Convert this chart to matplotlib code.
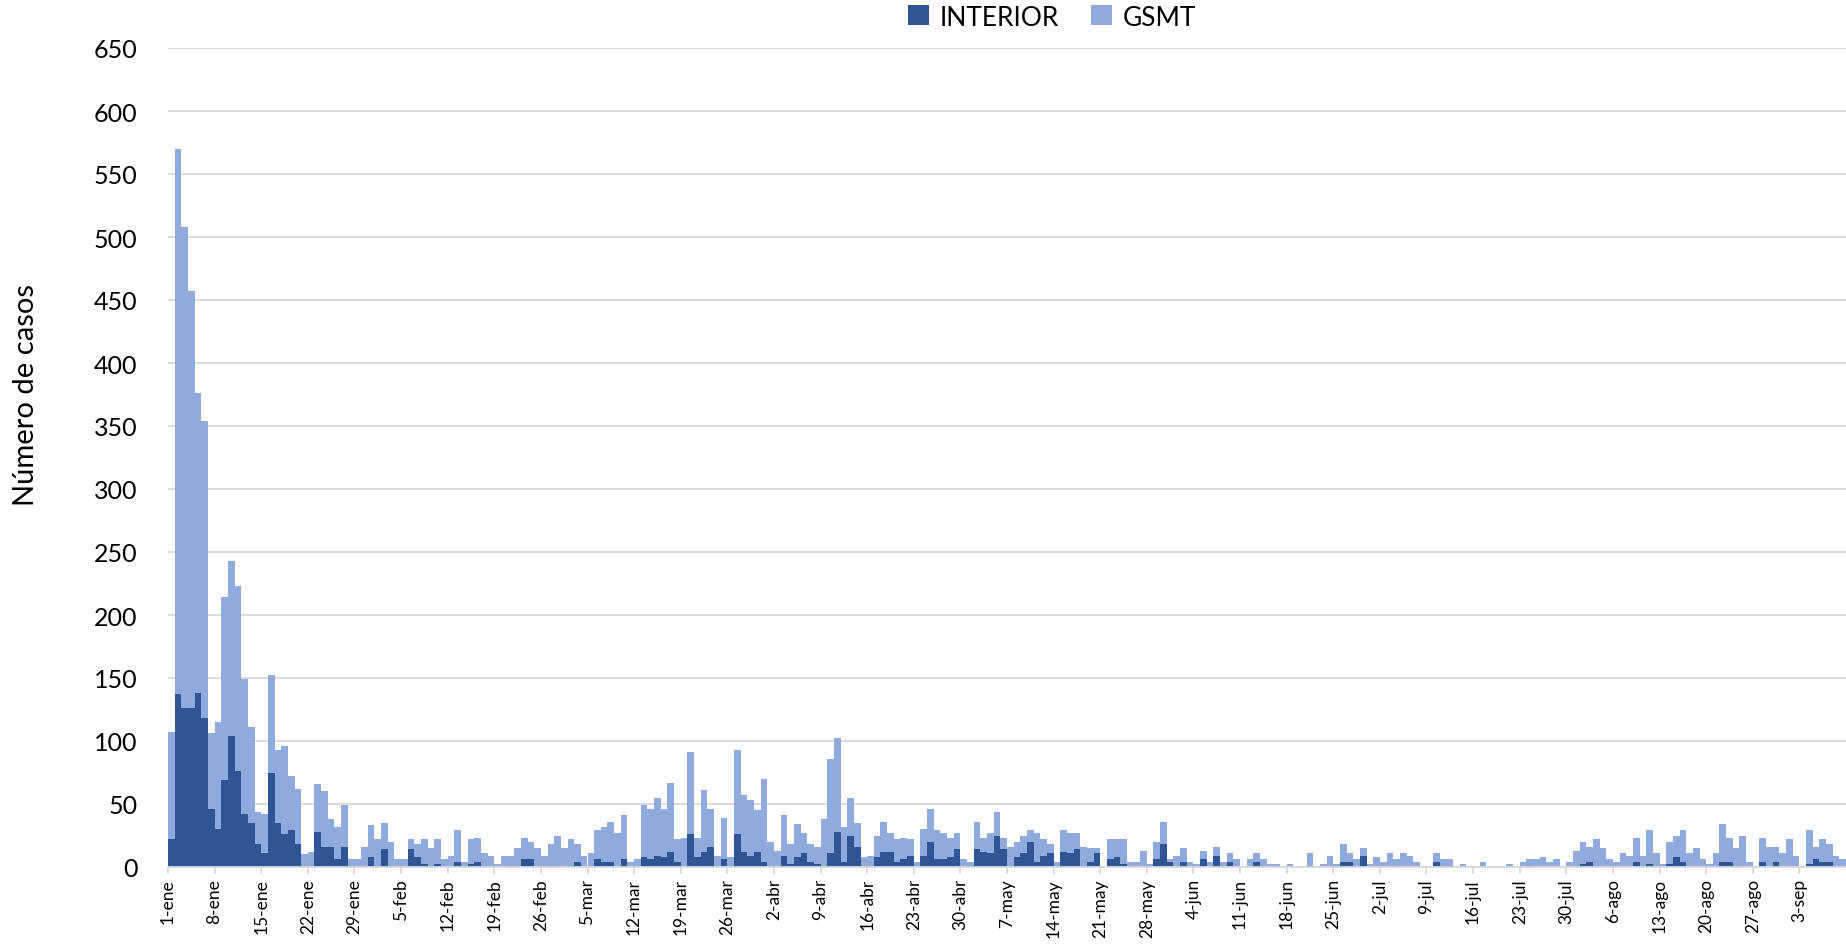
import matplotlib
matplotlib.use('Agg')
import matplotlib.pyplot as plt
import numpy as np

plt.rcParams['font.family'] = ['Lato', 'DejaVu Sans']

# daily cases, 1-ene .. 9-sep (14 days per row)
interior = [
    22, 137, 126, 126, 138, 118, 46, 30, 69, 104, 76, 42, 35, 18,
    11, 75, 35, 26, 29, 18, 1, 0, 28, 16, 16, 6, 16, 0,
    0, 1, 8, 1, 14, 0, 0, 0, 14, 8, 2, 1, 2, 0,
    0, 4, 1, 2, 4, 1, 0, 0, 0, 1, 0, 6, 6, 0,
    0, 1, 0, 0, 1, 4, 0, 0, 6, 4, 4, 0, 6, 0,
    0, 8, 6, 9, 8, 12, 4, 1, 26, 8, 12, 16, 0, 6,
    0, 26, 12, 9, 12, 4, 0, 0, 9, 2, 8, 11, 4, 2,
    1, 11, 28, 4, 25, 16, 0, 0, 8, 12, 12, 4, 6, 9,
    0, 9, 20, 6, 6, 8, 14, 0, 1, 14, 12, 11, 25, 14,
    0, 8, 11, 20, 4, 9, 11, 0, 12, 11, 14, 1, 4, 11,
    0, 6, 8, 2, 1, 0, 0, 0, 6, 18, 4, 0, 4, 0,
    0, 6, 0, 9, 0, 4, 0, 0, 0, 4, 0, 0, 1, 0,
    0, 0, 0, 1, 0, 0, 1, 0, 4, 4, 0, 9, 0, 0,
    0, 0, 1, 0, 0, 0, 0, 0, 4, 0, 1, 0, 0, 0,
    0, 0, 0, 0, 0, 0, 0, 0, 1, 0, 0, 0, 0, 0,
    0, 0, 2, 4, 1, 0, 0, 0, 0, 0, 4, 0, 2, 1,
    0, 2, 8, 4, 0, 0, 0, 0, 0, 4, 4, 1, 0, 0,
    0, 4, 0, 4, 0, 0, 0, 0, 2, 6, 4, 4, 0, 0,
]

gsmt = [
    85, 433, 382, 331, 238, 236, 60, 85, 145, 139, 147, 107, 76, 26,
    31, 77, 58, 70, 43, 44, 9, 12, 38, 44, 22, 26, 33, 6,
    6, 15, 25, 21, 21, 20, 6, 6, 8, 10, 20, 14, 20, 6,
    9, 25, 3, 20, 19, 10, 9, 2, 9, 8, 15, 17, 14, 15,
    9, 17, 25, 15, 21, 14, 9, 11, 23, 28, 32, 27, 35, 4,
    6, 41, 40, 46, 38, 55, 18, 22, 65, 15, 49, 30, 9, 33,
    8, 67, 45, 44, 33, 66, 20, 13, 32, 16, 26, 16, 14, 14,
    37, 75, 74, 28, 30, 19, 8, 9, 17, 24, 15, 18, 17, 13,
    4, 21, 26, 23, 21, 15, 13, 6, 3, 22, 11, 16, 19, 9,
    16, 12, 14, 9, 23, 13, 7, 4, 17, 16, 13, 15, 11, 4,
    0, 16, 14, 20, 3, 4, 13, 2, 14, 18, 2, 9, 11, 4,
    2, 7, 4, 7, 4, 7, 6, 0, 6, 7, 6, 2, 1, 1,
    2, 1, 1, 10, 1, 2, 8, 2, 14, 7, 6, 6, 2, 8,
    4, 11, 5, 11, 9, 4, 1, 1, 7, 6, 5, 1, 2, 1,
    1, 4, 1, 1, 1, 2, 0, 4, 5, 6, 8, 4, 6, 0,
    4, 13, 18, 12, 21, 15, 6, 4, 11, 9, 19, 9, 27, 10,
    2, 18, 17, 25, 11, 15, 6, 2, 11, 30, 19, 14, 25, 4,
    1, 19, 16, 12, 11, 22, 9, 1, 27, 10, 18, 14, 9, 6,
]

week_labels = ['1-ene', '8-ene', '15-ene', '22-ene', '29-ene', '5-feb', '12-feb',
               '19-feb', '26-feb', '5-mar', '12-mar', '19-mar', '26-mar', '2-abr',
               '9-abr', '16-abr', '23-abr', '30-abr', '7-may', '14-may', '21-may',
               '28-may', '4-jun', '11-jun', '18-jun', '25-jun', '2-jul', '9-jul',
               '16-jul', '23-jul', '30-jul', '6-ago', '13-ago', '20-ago', '27-ago',
               '3-sep']

dark = '#2F5597'
light = '#8FAADC'
grid_c = '#D9D9D9'

x = np.arange(len(interior))
interior = np.array(interior)
gsmt = np.array(gsmt)

fig = plt.figure(figsize=(18.46, 9.45), dpi=100)
ax = fig.add_axes([168 / 1846, 1 - 868 / 945, (1846 - 168) / 1846, (868 - 49) / 945])

ax.bar(x, interior, width=1.0, color=dark, label='INTERIOR', zorder=3)
ax.bar(x, gsmt, width=1.0, bottom=interior, color=light, label='GSMT', zorder=3)

ax.set_xlim(-0.5, len(x) - 0.5)
ax.set_ylim(0, 650)
ax.set_yticks(np.arange(0, 651, 50))
ax.yaxis.grid(True, color=grid_c, linewidth=1.3, zorder=0)
ax.tick_params(axis='y', length=0, pad=22, labelsize=18)

tick_pos = np.arange(len(week_labels)) * 7 - 0.5
ax.set_xticks(tick_pos)
ax.set_xticklabels(week_labels, rotation=90, fontsize=12.5)
ax.tick_params(axis='x', length=5, width=1.3, color=grid_c, pad=3)

for s in ['top', 'right', 'left']:
    ax.spines[s].set_visible(False)
ax.spines['bottom'].set_color(grid_c)
ax.spines['bottom'].set_linewidth(1.3)
ax.spines['bottom'].set_zorder(4)

fig.text(26 / 1846, 1 - 395 / 945, 'Número de casos', rotation=90,
         ha='center', va='center', fontsize=21)

fig.legend(loc='center', bbox_to_anchor=(1052 / 1846, 1 - 18 / 945), ncol=2,
           frameon=False, fontsize=19, handlelength=0.8, handleheight=0.8,
           handletextpad=0.4, columnspacing=1.2)

fig.savefig('out.png', dpi=100)
